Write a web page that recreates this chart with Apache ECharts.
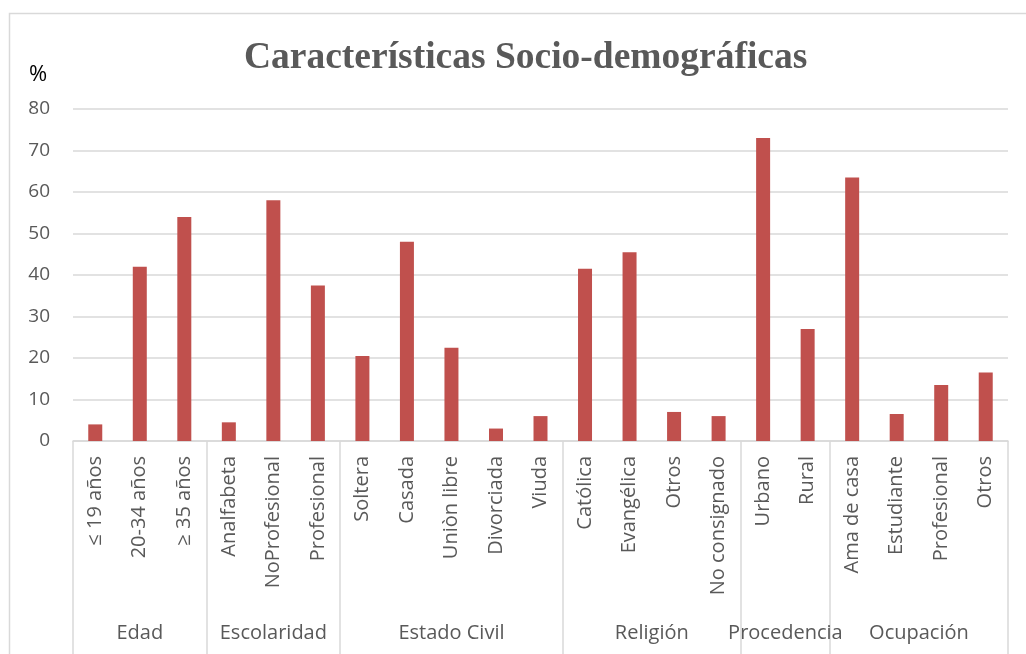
<!DOCTYPE html>
<html>
<head>
<meta charset="utf-8">
<script src="https://cdn.jsdelivr.net/npm/echarts@6/dist/echarts.min.js"></script>
<style>
  html, body { margin: 0; padding: 0; background: #fff; overflow: hidden; }
  #chart { width: 1026px; height: 654px; }
</style>
</head>
<body>
<div id="chart"></div>
<script>
const categories = [
  '≤ 19 años', '20-34 años', '≥ 35 años',
  'Analfabeta', 'NoProfesional', 'Profesional',
  'Soltera', 'Casada', 'Uniòn libre', 'Divorciada', 'Viuda',
  'Católica', 'Evangélica', 'Otros', 'No consignado',
  'Urbano', 'Rural',
  'Ama de casa', 'Estudiante', 'Profesional', 'Otros'
];
const values = [
  4, 42, 54,
  4.5, 58, 37.5,
  20.5, 48, 22.5, 3, 6,
  41.5, 45.5, 7, 6,
  73, 27,
  63.5, 6.5, 13.5, 16.5
];
const groupNames = ['Edad', 'Escolaridad', 'Estado Civil', 'Religión', 'Procedencia', 'Ocupación'];
const groupSizes = [3, 3, 5, 4, 2, 4];
const yTicks = [0, 10, 20, 30, 40, 50, 60, 70, 80];

// group boundaries and midpoints (in category units)
const bounds = [0];
groupSizes.forEach((s) => bounds.push(bounds[bounds.length - 1] + s));
const mids = groupSizes.map((s, i) => bounds[i] + s / 2);

const font = '"Open Sans", sans-serif';
const grey = '#595959';
const lineGrey = '#d9d9d9';

const chart = echarts.init(document.getElementById('chart'));
chart.setOption({
  animation: false,
  title: {
    text: 'Características Socio-demográficas',
    left: 239,
    top: 34,
    textStyle: {
      fontFamily: '"Liberation Serif", "DejaVu Serif", serif',
      fontWeight: 'bold',
      fontSize: 37.5,
      color: grey,
    },
  },
  graphic: [
    {
      type: 'rect',
      silent: true,
      shape: { x: 9.5, y: 13.5, width: 1100, height: 700 },
      style: { fill: 'none', stroke: lineGrey, lineWidth: 1.5 },
    },
    {
      type: 'text',
      left: 29,
      top: 64,
      style: { text: '%', fontSize: 22, fontFamily: font, fill: '#000' },
    },
  ],
  grid: {
    left: 73,
    right: 18,
    top: 109,
    bottom: 213,
  },
  xAxis: [
    {
      type: 'category',
      data: categories,
      axisLine: { lineStyle: { color: lineGrey, width: 1.5 } },
      axisTick: { show: false },
      axisLabel: {
        rotate: 90,
        interval: 0,
        margin: 15,
        fontSize: 20,
        fontFamily: font,
        color: grey,
      },
    },
    {
      type: 'value',
      position: 'bottom',
      min: 0,
      max: categories.length,
      axisLine: { show: false },
      splitLine: { show: false },
      axisTick: {
        show: true,
        customValues: bounds,
        length: 215,
        lineStyle: { color: lineGrey, width: 1.5 },
      },
      axisLabel: {
        customValues: mids,
        margin: 182,
        fontSize: 20,
        fontFamily: font,
        color: grey,
        formatter: (v) => groupNames[mids.indexOf(v)] || '',
      },
    },
  ],
  yAxis: {
    type: 'value',
    min: yTicks[0],
    max: yTicks[yTicks.length - 1],
    interval: 10,
    axisLine: { show: false },
    axisTick: { show: false },
    splitLine: { lineStyle: { color: lineGrey, width: 1.5 } },
    axisLabel: {
      margin: 23,
      fontSize: 19,
      fontFamily: font,
      color: grey,
    },
  },
  series: [
    {
      type: 'bar',
      xAxisIndex: 0,
      data: values,
      barWidth: 14,
      itemStyle: { color: '#c0504d' },
    },
  ],
});
</script>
</body>
</html>
